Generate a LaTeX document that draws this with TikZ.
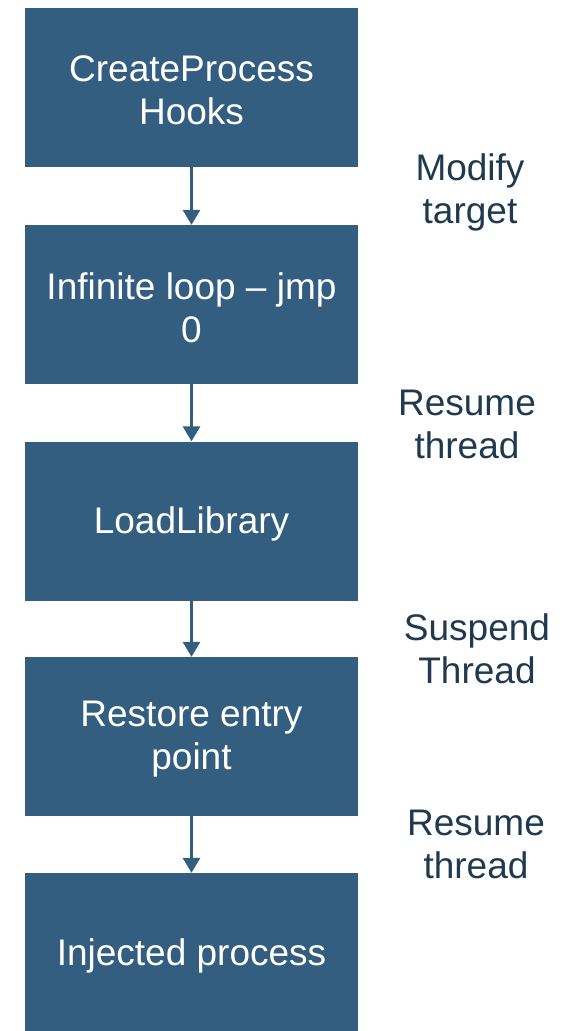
\documentclass[tikz,border=0pt]{standalone}
\usepackage{fontspec}
\setmainfont{Liberation Sans}
\usetikzlibrary{arrows.meta}
\definecolor{boxblue}{HTML}{345E80}
\definecolor{labelink}{HTML}{1F3A4F}
\begin{document}
\begin{tikzpicture}[x=1pt,y=-1pt,
  stepbox/.style={rectangle, fill=boxblue, minimum width=333pt,
    minimum height=159pt, inner sep=0pt},
  steptext/.style={text=white, align=center, inner sep=0pt,
    font=\fontsize{37}{43}\selectfont},
  sidelabel/.style={text=labelink, align=center, inner sep=0pt,
    font=\fontsize{37}{43}\selectfont},
  flow/.style={draw=boxblue, line width=3pt,
    -{Triangle[width=17pt,length=15pt]}}]
\useasboundingbox (0,0) rectangle (566,1031);
% process steps
\node[stepbox] (s1) at (191.5,87.5) {};
\node[stepbox] (s2) at (191.5,304.5) {};
\node[stepbox] (s3) at (191.5,521) {};
\node[stepbox] (s4) at (191.5,736.5) {};
\node[stepbox] (s5) at (191.5,952.5) {};
\node[steptext] (t1) at ([yshift=-3pt]s1.center) {CreateProcess\\Hooks};
\node[steptext] (t2) at ([yshift=-3pt]s2.center) {Infinite loop -- jmp\\0};
\node[steptext] (t3) at ([yshift=-3pt]s3.center) {LoadLibrary};
\node[steptext] (t4) at ([yshift=-3pt]s4.center) {Restore entry\\point};
\node[steptext] (t5) at ([yshift=-3pt]s5.center) {Injected process};
% connectors
\draw[flow] (s1.south) -- (s2.north);
\draw[flow] (s2.south) -- (s3.north);
\draw[flow] (s3.south) -- (s4.north);
\draw[flow] (s4.south) -- (s5.north);
% transition labels
\node[sidelabel] (l1) at (470,192) {Modify\\target};
\node[sidelabel] (l2) at (467,424) {Resume\\thread};
\node[sidelabel] (l3) at (477,649) {Suspend\\Thread};
\node[sidelabel] (l4) at (476,844) {Resume\\thread};
\end{tikzpicture}
\end{document}
